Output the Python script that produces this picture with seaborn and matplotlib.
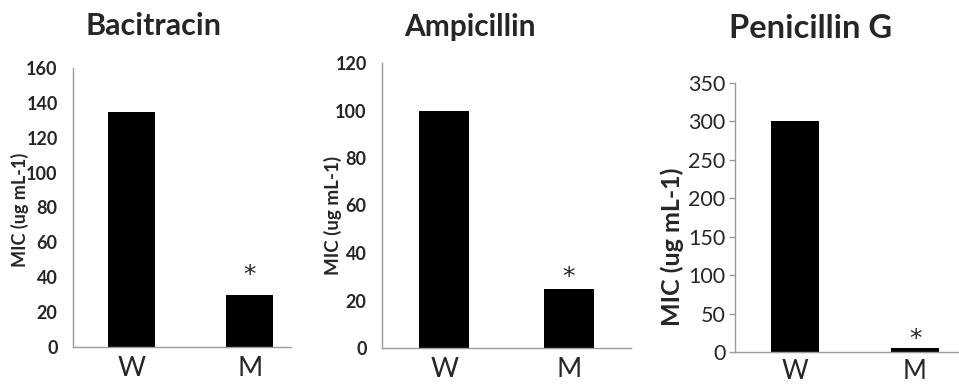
import matplotlib
matplotlib.use("Agg")
import matplotlib.pyplot as plt
import seaborn as sns
import pandas as pd

# ---- data ----
strains = ["W", "M"]
titles = ["Bacitracin", "Ampicillin", "Penicillin G"]
bacitracin_mic = [135, 30]
ampicillin_mic = [100, 25]
penicillin_mic = [300, 5]
y_max = [160, 120, 350]
y_step = [20, 20, 50]
significance = ["", "*"]
y_label = "MIC (ug mL-1)"

sns.set_style("white")
plt.rcParams["font.family"] = ["Lato", "DejaVu Sans"]

W, H = 959, 385
fig = plt.figure(figsize=(W / 100, H / 100), dpi=100)

def rect(left, right, top, bottom):
    return [left / W, 1 - bottom / H, (right - left) / W, (bottom - top) / H]

# layout per panel (pixel geometry)
layouts = [
    dict(rect=rect(73, 291, 68, 347), xlim=(-0.5, 1.35), title_xy=(153, 26), title_fs=22,
         tick_fs=13, tick_w="bold", ticks=False, ylab_fs=13, ylab_xy=(20, 210),
         star_off=9, xt_fs=19.5, xt_pad=3),
    dict(rect=rect(382, 631, 63, 348), xlim=(-0.5, 1.5), title_xy=(470, 27), title_fs=21.5,
         tick_fs=13, tick_w="bold", ticks=False, ylab_fs=13.5, ylab_xy=(333, 215),
         star_off=3, xt_fs=19.5, xt_pad=3),
    dict(rect=rect(735, 975, 83, 352), xlim=(-0.5, 1.5), title_xy=(811, 29), title_fs=23.5,
         tick_fs=15.5, tick_w="normal", ticks=True, ylab_fs=18, ylab_xy=(672, 247),
         star_off=1.5, xt_fs=18.5, xt_pad=1.5),
]

series = [bacitracin_mic, ampicillin_mic, penicillin_mic]
axis_grey = "#9a9a9a"

for i, (vals, lay) in enumerate(zip(series, layouts)):
    ax = fig.add_axes(lay["rect"])
    df = pd.DataFrame({"strain": strains, "mic": vals})
    sns.barplot(data=df, x="strain", y="mic", color="black", width=0.4,
                saturation=1, ax=ax, edgecolor="black", linewidth=0)
    ax.set_xlim(*lay["xlim"])
    ax.set_ylim(0, y_max[i])
    ax.set_yticks(range(0, y_max[i] + 1, y_step[i]))
    for s in ["top", "right"]:
        ax.spines[s].set_visible(False)
    for s in ["left", "bottom"]:
        ax.spines[s].set_color(axis_grey)
        ax.spines[s].set_linewidth(1.0)
    ax.tick_params(axis="y", left=lay["ticks"], length=4, width=1.0,
                   color=axis_grey, pad=3 if lay["ticks"] else 7,
                   labelsize=lay["tick_fs"])
    for t in ax.get_yticklabels():
        t.set_fontweight(lay["tick_w"])
    ax.tick_params(axis="x", bottom=False, labelsize=lay["xt_fs"], pad=lay["xt_pad"])
    ax.set_xlabel("")
    ax.set_ylabel(y_label, fontsize=lay["ylab_fs"], fontweight="bold")
    ax.yaxis.label.set_va("center")
    lx, ly = lay["ylab_xy"]
    bb = lay["rect"]
    ax.yaxis.set_label_coords((lx / W - bb[0]) / bb[2], ((1 - ly / H) - bb[1]) / bb[3])
    # significance marks
    for j, mark in enumerate(significance):
        if mark:
            ax.annotate(mark, xy=(j, vals[j]), xytext=(0, lay["star_off"]),
                        textcoords="offset points", ha="center", va="baseline",
                        fontsize=18, family="DejaVu Sans")
    tx, ty = lay["title_xy"]
    fig.text(tx / W, 1 - ty / H, titles[i], ha="center", va="center",
             fontsize=lay["title_fs"], fontweight="bold")

fig.savefig("out.png", dpi=100)
